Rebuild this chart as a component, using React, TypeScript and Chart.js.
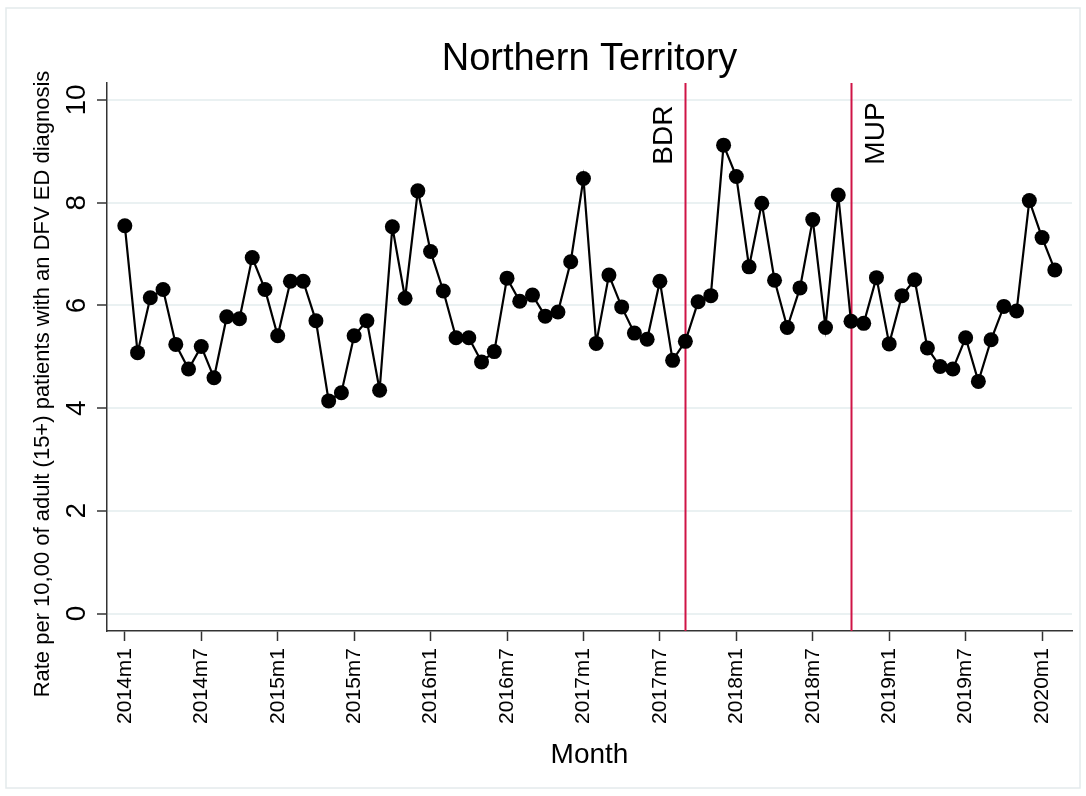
import React, { useEffect, useRef } from "react";
import { Chart, registerables } from "chart.js";

Chart.register(...registerables);

const FONT = '"Liberation Sans", Arial, Helvetica, sans-serif';

// Monthly rate, 2014m1 .. 2020m2 (index 0 = 2014m1)
const rates: number[] = [
  7.55, 5.08, 6.15, 6.31, 5.24, 4.76, 5.2, 4.59, 5.78, 5.74, 6.93, 6.31,
  5.41, 6.47, 6.47, 5.7, 4.14, 4.3, 5.41, 5.7, 4.35, 7.53, 6.14, 8.23,
  7.05, 6.28, 5.37, 5.37, 4.9, 5.1, 6.53, 6.08, 6.2, 5.79, 5.87, 6.85,
  8.47, 5.26, 6.59, 5.97, 5.46, 5.34, 6.47, 4.93, 5.3, 6.07, 6.19, 9.12,
  8.51, 6.75, 7.99, 6.49, 5.57, 6.34, 7.67, 5.57, 8.15, 5.69, 5.65, 6.54,
  5.25, 6.19, 6.5, 5.17, 4.81, 4.76, 5.37, 4.52, 5.33, 5.98, 5.89, 8.04,
  7.32, 6.69,
];

const xTickValues: number[] = [0, 6, 12, 18, 24, 30, 36, 42, 48, 54, 60, 66, 72];
const xTickLabels: string[] = [
  "2014m1", "2014m7", "2015m1", "2015m7", "2016m1", "2016m7", "2017m1",
  "2017m7", "2018m1", "2018m7", "2019m1", "2019m7", "2020m1",
];
const yTickValues: number[] = [0, 2, 4, 6, 8, 10];

// Intervention lines (month index)
const eventNames: string[] = ["BDR", "MUP"];
const eventMonths: number[] = [44, 57];

const TITLE = "Northern Territory";
const X_TITLE = "Month";
const Y_TITLE = "Rate per 10,00 of adult (15+) patients with an DFV ED diagnosis";

const RED = "#cf1446";

const decorPlugin = {
  id: "decor",
  beforeDraw(chart: any) {
    const ctx = chart.ctx;
    ctx.save();
    ctx.fillStyle = "#ffffff";
    ctx.fillRect(0, 0, chart.width, chart.height);
    ctx.strokeStyle = "#e4eaec";
    ctx.lineWidth = 1.5;
    ctx.strokeRect(6, 8, chart.width - 12, chart.height - 16);
    ctx.restore();
  },
  beforeDatasetsDraw(chart: any) {
    const ctx = chart.ctx;
    const xs = chart.scales.x;
    const ca = chart.chartArea;
    ctx.save();
    ctx.strokeStyle = RED;
    ctx.lineWidth = 2;
    eventMonths.forEach((m) => {
      const px = Math.round(xs.getPixelForValue(m)) + 0.5;
      ctx.beginPath();
      ctx.moveTo(px, ca.top);
      ctx.lineTo(px, ca.bottom);
      ctx.stroke();
    });
    ctx.restore();
  },
  afterDraw(chart: any) {
    const ctx = chart.ctx;
    const xs = chart.scales.x;
    const ys = chart.scales.y;
    const ca = chart.chartArea;
    const cx = (ca.left + ca.right) / 2;
    ctx.save();
    ctx.fillStyle = "#000000";
    ctx.textBaseline = "alphabetic";

    // main title
    ctx.font = `38px ${FONT}`;
    ctx.textAlign = "center";
    ctx.fillText(TITLE, cx, 69.5);

    // x title
    ctx.font = `28px ${FONT}`;
    ctx.fillText(X_TITLE, cx, 763);

    // y title
    ctx.save();
    ctx.font = `22px ${FONT}`;
    ctx.translate(48.5, 384);
    ctx.rotate(-Math.PI / 2);
    ctx.textAlign = "center";
    ctx.fillText(Y_TITLE, 0, 0);
    ctx.restore();

    // y tick labels (vertical)
    ctx.font = `28px ${FONT}`;
    ys.ticks.forEach((t: any) => {
      const py = ys.getPixelForValue(t.value);
      ctx.save();
      ctx.translate(85, py);
      ctx.rotate(-Math.PI / 2);
      ctx.textAlign = "center";
      ctx.fillText(String(t.value), 0, 0);
      ctx.restore();
    });

    // event labels
    const yStart = ys.getPixelForValue(8.74);
    eventMonths.forEach((m, i) => {
      const lx = xs.getPixelForValue(m);
      const bx = i === 0 ? lx - 13.4 : lx + 32.6;
      ctx.save();
      ctx.font = `28px ${FONT}`;
      ctx.translate(bx, yStart);
      ctx.rotate(-Math.PI / 2);
      ctx.textAlign = "left";
      ctx.fillText(eventNames[i], 0, 0);
      ctx.restore();
    });
    ctx.restore();
  },
};

export default function App() {
  const ref = useRef<HTMLCanvasElement | null>(null);

  useEffect(() => {
    if (!ref.current) return;
    const points = rates.map((v, i) => ({ x: i, y: v }));
    const chart = new Chart(ref.current, {
      type: "line",
      data: {
        datasets: [
          {
            data: points,
            borderColor: "#000000",
            borderWidth: 2.2,
            backgroundColor: "#000000",
            pointBackgroundColor: "#000000",
            pointBorderColor: "#000000",
            pointBorderWidth: 0,
            pointRadius: 7.5,
            tension: 0,
            fill: false,
          },
        ],
      },
      options: {
        responsive: false,
        animation: false,
        devicePixelRatio: 1,
        layout: { padding: { top: 83, right: 14, left: 0, bottom: 0 } },
        plugins: {
          legend: { display: false },
          tooltip: { enabled: false },
          title: { display: false },
        },
        scales: {
          x: {
            type: "linear",
            min: -1.4,
            max: 74.35,
            afterBuildTicks: (s: any) => {
              s.ticks = xTickValues.map((v) => ({ value: v }));
            },
            afterFit: (s: any) => {
              s.height = 165;
              s.paddingLeft = 0;
              s.paddingRight = 0;
            },
            grid: {
              drawOnChartArea: false,
              drawTicks: true,
              tickLength: 10,
              tickColor: "#333333",
              tickWidth: 1.5,
            },
            border: { color: "#333333", width: 1.5 },
            ticks: {
              autoSkip: false,
              minRotation: 90,
              maxRotation: 90,
              padding: 7,
              color: "#000000",
              font: { family: FONT, size: 21 },
              callback: (v: any) => {
                const idx = xTickValues.indexOf(Number(v));
                return idx >= 0 ? xTickLabels[idx] : "";
              },
            },
          },
          y: {
            type: "linear",
            min: -0.34,
            max: 10.33,
            afterBuildTicks: (s: any) => {
              s.ticks = yTickValues.map((v) => ({ value: v }));
            },
            afterFit: (s: any) => {
              s.width = 107;
              s.paddingTop = 0;
              s.paddingBottom = 0;
            },
            grid: {
              color: "#eaf1f2",
              lineWidth: 2,
              drawTicks: true,
              tickLength: 10,
              tickColor: "#333333",
              tickWidth: 1.5,
            },
            border: { color: "#333333", width: 1.5 },
            ticks: { display: false },
          },
        },
      },
      plugins: [decorPlugin],
    });
    return () => chart.destroy();
  }, []);

  return (
    <div style={{ position: "absolute", left: 0, top: 0, width: 1086, height: 796 }}>
      <canvas ref={ref} width={1086} height={796} style={{ display: "block" }} />
    </div>
  );
}
